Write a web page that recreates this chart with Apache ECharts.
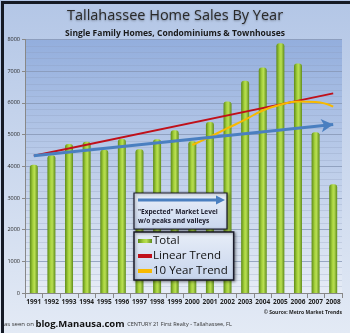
<!DOCTYPE html>
<html><head><meta charset="utf-8">
<script src="https://cdn.jsdelivr.net/npm/echarts@6/dist/echarts.min.js"></script>
<style>html,body{margin:0;padding:0;}#c{width:350px;height:333px;}</style>
</head><body><div id="c"></div>
<script>
var years = ['1991','1992','1993','1994','1995','1996','1997','1998','1999','2000','2001','2002','2003','2004','2005','2006','2007','2008'];
var totals = [4050,4350,4700,4770,4520,4860,4540,4850,5140,4790,5400,6040,6700,7120,7880,7240,5070,3430];
var linearTrend = [4330,null,null,null,null,null,null,null,null,null,null,null,null,null,null,null,null,6300];
var tenYearTrend = [null,null,null,null,null,null,null,null,null,4670,4930,5200,5470,5760,5940,6040,6030,5880];
var expectedStart = ['1991',4330];
var expectedEnd = ['2008',5320];
var yTicks = [0,1000,2000,3000,4000,5000,6000,7000,8000];

var chart = echarts.init(document.getElementById('c'));
chart.setOption({
  backgroundColor: new echarts.graphic.LinearGradient(0,0,0,1,[{offset:0,color:'#b3c6e6'},{offset:1,color:'#e3eaf5'}]),
  animation:false,
  title:[{text:'Tallahassee Home Sales By Year',left:'center',top:3,textStyle:{fontFamily:'Open Sans',fontSize:14.5,fontWeight:'normal',color:'#2a2a2a',textShadowColor:'rgba(0,0,0,0.35)',textShadowBlur:2,textShadowOffsetY:1}},
         {text:'Single Family Homes, Condominiums & Townhouses',left:'center',top:24,textStyle:{fontFamily:'Open Sans',fontSize:8.5,fontWeight:'bold',color:'#1a1a1a'}}],
  grid:{left:25,right:8,top:39.5,bottom:40,show:true,borderWidth:0,
    backgroundColor:new echarts.graphic.LinearGradient(0,0,0,1,[{offset:0,color:'#93aedd'},{offset:1,color:'#e6ecf6'}])},
  legend:{data:[{name:'Total',icon:'rect'},{name:'Linear Trend',icon:'rect'},{name:'10 Year Trend',icon:'rect'}],
    orient:'vertical',left:134,top:232,width:98,itemGap:3,itemWidth:14,itemHeight:4,
    padding:[3,6,3,4],borderColor:'#1a1a2a',borderWidth:1.5,
    backgroundColor:new echarts.graphic.LinearGradient(0,0,0,1,[{offset:0,color:'#e8eef8'},{offset:1,color:'#c6d4ec'}]),
    shadowColor:'rgba(0,0,0,0.4)',shadowBlur:3,shadowOffsetX:1,shadowOffsetY:1,
    textStyle:{fontFamily:'Open Sans',fontSize:11.5,color:'#111',padding:[0,0,0,-4]}},
  xAxis:{type:'category',data:years,
    axisLine:{lineStyle:{color:'#888'}},axisTick:{show:true,lineStyle:{color:'#888'}},
    axisLabel:{interval:0,fontSize:6.5,fontWeight:'bold',color:'#222',fontFamily:'Open Sans',margin:6}},
  yAxis:{type:'value',min:0,max:8000,interval:1000,
    axisLine:{show:true,lineStyle:{color:'#888'}},axisTick:{show:true,length:3,lineStyle:{color:'#888'}},
    axisLabel:{fontSize:5.5,color:'#222',fontFamily:'Open Sans',margin:5,
      formatter:function(v){return yTicks.indexOf(v)>=0?String(v):'';}},
    splitLine:{lineStyle:{color:'#8797b5',width:0.8}},
    minorTick:{show:false,splitNumber:5},
    minorSplitLine:{show:true,lineStyle:{color:'rgba(140,155,185,0.45)',width:0.6}}},
  series:[
    {name:'Total',type:'bar',data:totals,barWidth:8,
      itemStyle:{color:new echarts.graphic.LinearGradient(0,0,1,0,[{offset:0,color:'#5d8a18'},{offset:0.4,color:'#a8d43e'},{offset:0.6,color:'#b8de52'},{offset:1,color:'#5f8c1a'}]),
        borderRadius:[3,3,0,0]}},
    {name:'Linear Trend',type:'line',data:linearTrend,connectNulls:true,symbol:'none',
      lineStyle:{color:'#c0101a',width:2},itemStyle:{color:'#c0101a'}},
    {name:'10 Year Trend',type:'line',data:tenYearTrend,smooth:true,symbol:'none',
      lineStyle:{color:'#f7b900',width:2},itemStyle:{color:'#f7b900'}},
    {name:'Expected',type:'line',data:[],
      markLine:{silent:true,symbol:['none','arrow'],symbolSize:[10,12],label:{show:false},
        lineStyle:{color:'#4a7fc0',width:3,type:'solid'},
        data:[[{coord:expectedStart},{coord:expectedEnd}]]}}
  ],
  graphic:[
    {type:'rect',left:0,top:0,z:100,shape:{width:350,height:333},style:{fill:'none',stroke:'#151a25',lineWidth:3}},
    {type:'rect',z:50,shape:{x:134,y:193,width:93,height:36},style:{fill:new echarts.graphic.LinearGradient(0,0,0,1,[{offset:0,color:'#e9eff9'},{offset:1,color:'#c9d6ee'}]),stroke:'#1a1a2a',lineWidth:1.2,shadowColor:'rgba(0,0,0,0.4)',shadowBlur:3,shadowOffsetX:1,shadowOffsetY:1}},
    {type:'polyline',z:51,shape:{points:[[138,200],[218,200]]},style:{stroke:'#4a7fc0',lineWidth:3}},
    {type:'polygon',z:51,shape:{points:[[216,195.5],[225,200],[216,204.5]]},style:{fill:'#4a7fc0'}},
    {type:'text',z:51,x:138,y:208,style:{text:'"Expected" Market Level\nw/o peaks and valleys',font:'bold 6.5px "Open Sans"',fill:'#1a1a2a',lineHeight:9}},
    {type:'text',right:8,top:310,z:51,style:{text:'© Source: Metro Market Trends',font:'bold 5px "Open Sans"',fill:'#222'}},
    {type:'text',left:4,top:319,z:51,style:{rich:{a:{font:'6px "Open Sans"',fill:'#333'},b:{font:'bold 9.5px "Open Sans"',fill:'#111',textDecoration:'underline'},c:{font:'5.5px "Open Sans"',fill:'#333'}},text:'{a|as seen on }{b|blog.Manausa.com}{c|  CENTURY 21 First Realty - Tallahassee, FL}'}}
  ]
});
</script></body></html>
